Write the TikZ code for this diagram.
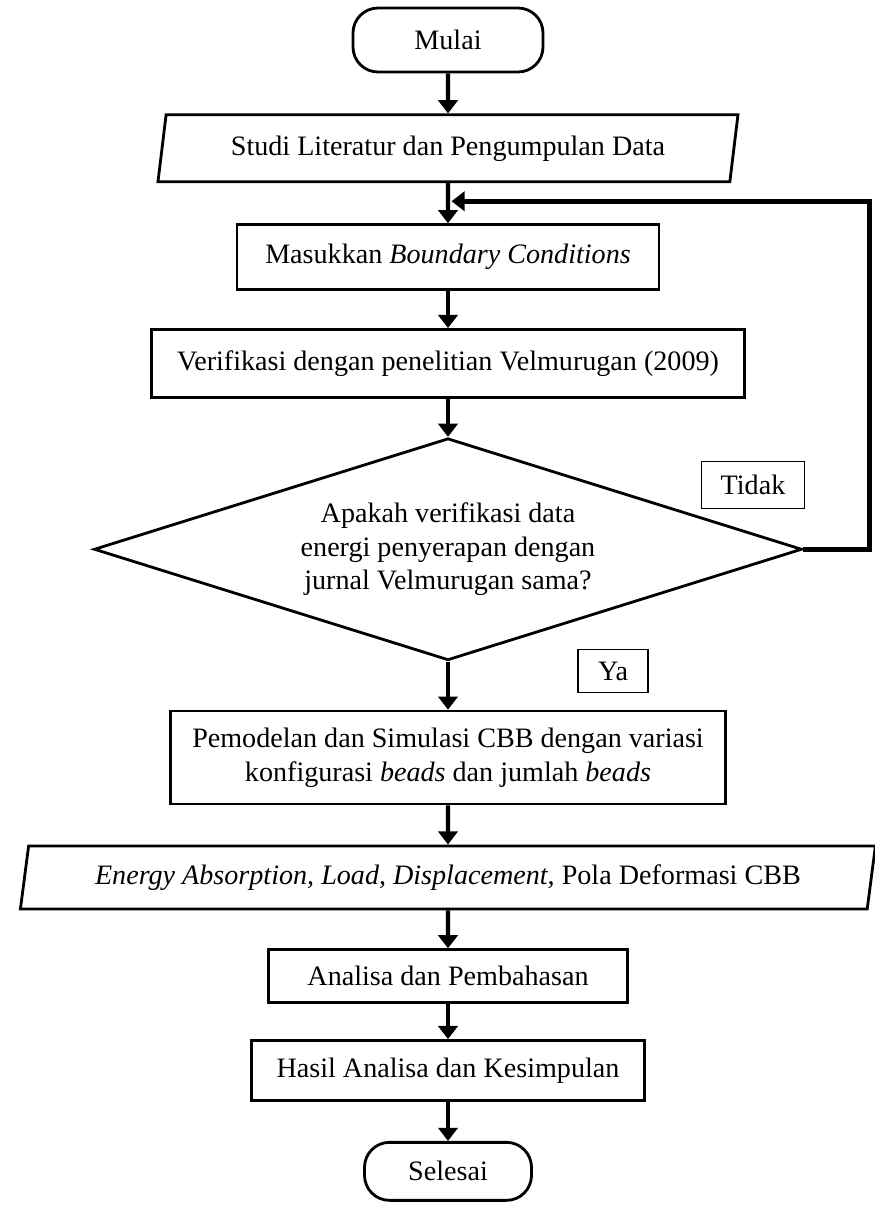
\documentclass[tikz,border=0pt]{standalone}
\usepackage{fontspec}
\setmainfont{Liberation Serif}
\usepackage{tikz}
\usetikzlibrary{positioning, arrows.meta, shapes.geometric}
\tikzset{terminal/.style={
        draw,
        rectangle,
        rounded corners=0.5cm,
        line width=1.6pt,
        inner sep=2pt,
        align=center
}}
\tikzset{process/.style={
        draw,
        rectangle,
        line width=1.6pt,
        inner sep=2pt,
        align=center
}}
\tikzset{inout/.style={
        draw,
        trapezium,
        trapezium left angle=76,
        trapezium right angle=104,
        trapezium stretches body,
        line width=1.6pt,
        inner sep=2pt,
        align=center
}}
\tikzset{decision/.style={
        draw,
        diamond,
        aspect=3.2,
        line width=1.6pt,
        inner sep=0pt,
        align=center
}}
\tikzset{answer/.style={
        draw,
        rectangle,
        line width=1pt,
        inner sep=2pt,
        align=center
}}
\tikzset{flowedge/.style={draw,line width=2.4pt,-{Triangle[width=11pt,length=7.5pt]}}}
\tikzset{loopedge/.style={draw,line width=2.6pt,-{Triangle[width=11pt,length=7.5pt]}}}

\begin{document}
\begin{tikzpicture}[node distance=0.8cm,every node/.style={font=\fontsize{16}{19}\selectfont}]
\useasboundingbox (0,0) rectangle (17.5,-24.12);
\node[terminal, minimum width=3.8cm, minimum height=1.28cm] (mulai) at (8.96,-0.8) {Mulai};
\node[inout, below=of mulai, minimum width=11.6cm, minimum height=1.34cm] (studi) {Studi Literatur dan Pengumpulan Data};
\node[process, below=of studi, minimum width=8.44cm, minimum height=1.3cm] (masukkan) {Masukkan \textit{Boundary Conditions}};
\node[process, below=0.74cm of masukkan, minimum width=11.86cm, minimum height=1.36cm] (verifikasi) {Verifikasi dengan penelitian Velmurugan (2009)};
\node[decision, below=0.76cm of verifikasi, minimum width=14.16cm, minimum height=4.44cm] (cek) {Apakah verifikasi data\\ energi penyerapan dengan\\ jurnal Velmurugan sama?};
\node[process, below=0.96cm of cek, minimum width=11.1cm, minimum height=1.86cm] (model) {Pemodelan dan Simulasi CBB dengan variasi\\ konfigurasi \textit{beads} dan jumlah \textit{beads}};
\node[inout, below=0.78cm of model, minimum width=17.1cm, minimum height=1.26cm] (keluaran) {\textit{Energy Absorption, Load, Displacement,} Pola Deformasi CBB};
\node[process, below=0.76cm of keluaran, minimum width=7.18cm, minimum height=1.06cm] (analisa) {Analisa dan Pembahasan};
\node[process, below=0.7cm of analisa, minimum width=7.86cm, minimum height=1.2cm] (hasil) {Hasil Analisa dan Kesimpulan};
\node[terminal, below=0.78cm of hasil, minimum width=3.34cm, minimum height=1.16cm] (selesai) {Selesai};

% jawaban
\node[answer, minimum width=2.06cm, minimum height=0.94cm] (tidak) at (15.06,-9.7) {Tidak};
\node[answer, minimum width=1.4cm, minimum height=0.86cm] (ya) at (12.26,-13.42) {Ya};

\coordinate (join) at ([xshift=0.07cm,yshift=-0.36cm]studi.south);

\draw[flowedge] (mulai) -- (studi);
\draw[flowedge] (studi) -- (masukkan);
\draw[flowedge] (masukkan) -- (verifikasi);
\draw[flowedge] (verifikasi) -- (cek);
\draw[flowedge] (cek) -- (model);
\draw[flowedge] (model) -- (keluaran);
\draw[flowedge] (keluaran) -- (analisa);
\draw[flowedge] (analisa) -- (hasil);
\draw[flowedge] (hasil) -- (selesai);
\draw[loopedge] (cek.east) -- ++(1.32,0) |- (join);
\end{tikzpicture}
\end{document}
